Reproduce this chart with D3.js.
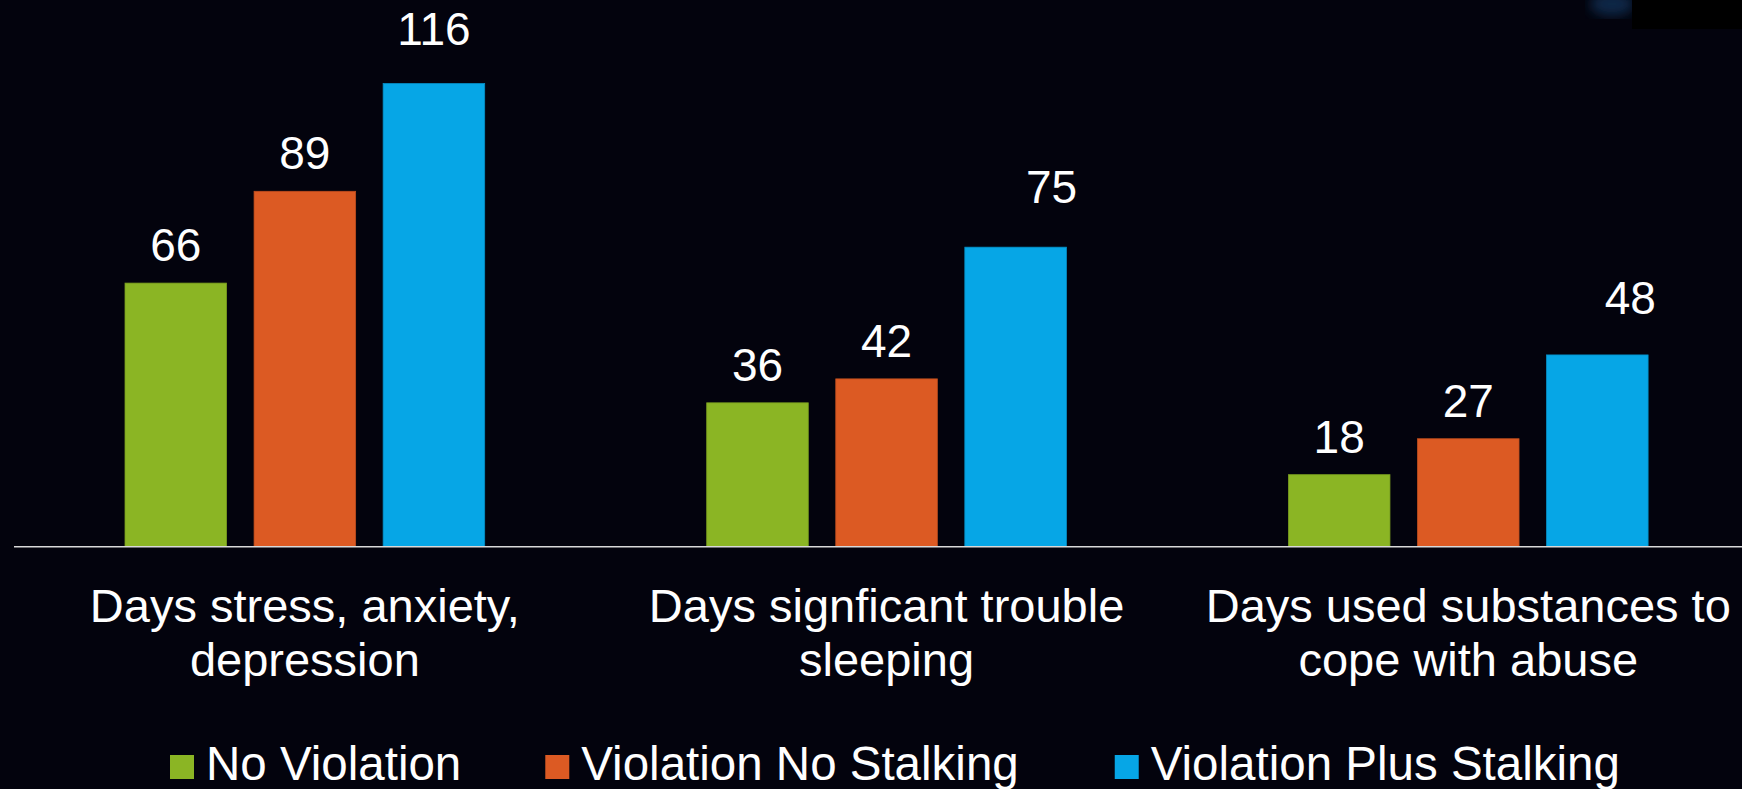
<!DOCTYPE html>
<meta charset="utf-8">
<style>
	html, body { margin: 0; padding: 0; background: #03030d; }
	svg { display: block; }
	text { font-family: "Liberation Sans", Arial, sans-serif; fill: #ffffff; }
</style>
<svg width="1742" height="789"></svg>
<script src="https://cdn.jsdelivr.net/npm/d3@7"></script>
<script>
	// categories (each label split into its two lines)
	var categories = [
		["Days stress, anxiety,", "depression"],
		["Days signficant trouble", "sleeping"],
		["Days used substances to", "cope with abuse"]
	]
	var seriesNames = ["No Violation", "Violation No Stalking", "Violation Plus Stalking"]
	var noViolation = [66, 36, 18]
	var violationNoStalking = [89, 42, 27]
	var violationPlusStalking = [116, 75, 48]
	var seriesColors = ["#8bb524", "#dc5a23", "#06a6e6"]

	var seriesValues = [noViolation, violationNoStalking, violationPlusStalking]

	var svg = d3.select("svg"),
		W = +svg.attr("width"),
		H = +svg.attr("height")

	// background + the little corner piece of the slide
	svg.append("rect").attr("width", W).attr("height", H).attr("fill", "#03030d")
	var defs = svg.append("defs")
	defs.append("filter").attr("id", "blur")
		.append("feGaussianBlur").attr("stdDeviation", 6)
	svg.append("ellipse")
		.attr("cx", 1612).attr("cy", 4).attr("rx", 22).attr("ry", 12)
		.attr("fill", "#12406e").attr("opacity", 0.6)
		.attr("filter", "url(#blur)")
	svg.append("rect")
		.attr("x", 1632).attr("y", 0).attr("width", 110).attr("height", 29)
		.attr("fill", "#000000")

	var baseY = 546.5

	var x0 = d3.scaleBand()
		.domain(d3.range(categories.length))
		.range([14, 14 + 3 * 581.7])
		.padding(0)

	var x1 = d3.scaleBand()
		.domain(seriesNames)
		.range([111, x0.bandwidth() - 111])
		.paddingInner(0.213)
		.paddingOuter(0)

	var y = d3.scaleLinear().domain([0, 130]).range([baseY, baseY - 130 * 3.991])

	// value label nudges (the slide moved a few labels by hand)
	var labelShift = {
		"Violation Plus Stalking": [[0, -17], [36, -22], [33, -19]]
	}

	var rows = []
	seriesNames.forEach(function (s, si) {
		seriesValues[si].forEach(function (v, ci) {
			rows.push({ series: s, si: si, ci: ci, value: v })
		})
	})

	var g = svg.append("g")

	g.selectAll(".bar")
		.data(rows)
		.enter()
		.append("rect")
		.attr("class", "bar")
		.attr("x", function (d) { return x0(d.ci) + x1(d.series) })
		.attr("y", function (d) { return y(d.value) })
		.attr("width", x1.bandwidth())
		.attr("height", function (d) { return baseY - y(d.value) })
		.attr("fill", function (d) { return seriesColors[d.si] })
		.attr("stroke", function (d) { return d3.color(seriesColors[d.si]).darker(0.4) })
		.attr("stroke-width", 0.8)

	g.selectAll(".val")
		.data(rows)
		.enter()
		.append("text")
		.attr("class", "val")
		.attr("text-anchor", "middle")
		.style("font-size", "46px")
		.attr("x", function (d) {
			var sh = labelShift[d.series] ? labelShift[d.series][d.ci][0] : 0
			return x0(d.ci) + x1(d.series) + x1.bandwidth() / 2 + sh
		})
		.attr("y", function (d) {
			var sh = labelShift[d.series] ? labelShift[d.series][d.ci][1] : 0
			return y(d.value) - 22 + sh
		})
		.text(function (d) { return d.value })

	// x axis line
	svg.append("line")
		.attr("x1", 14).attr("x2", W)
		.attr("y1", baseY + 0.3).attr("y2", baseY + 0.3)
		.attr("stroke", "#d9d9d9")
		.attr("stroke-width", 1.6)

	// category labels
	var cat = svg.selectAll(".cat")
		.data(categories)
		.enter()
		.append("text")
		.attr("class", "cat")
		.attr("text-anchor", "middle")
		.style("font-size", "47px")
		.attr("transform", function (d, i) {
			return "translate(" + (x0(i) + x0.bandwidth() / 2) + ",622)"
		})
	cat.selectAll("tspan")
		.data(function (d) { return d })
		.enter()
		.append("tspan")
		.attr("x", 0)
		.attr("y", function (d, i) { return i * 54 })
		.text(function (d) { return d })

	// legend
	var legend = svg.append("g").attr("class", "legend")
	var legendGaps = [84, 96]
	var lx = 170
	seriesNames.forEach(function (s, i) {
		var item = legend.append("g").attr("transform", "translate(" + lx + ",0)")
		item.append("rect")
			.attr("x", 0).attr("y", 755)
			.attr("width", 24).attr("height", 24)
			.attr("fill", seriesColors[i])
		var t = item.append("text")
			.attr("x", 36).attr("y", 780)
			.style("font-size", "47.5px")
			.text(s)
		lx += 36 + t.node().getComputedTextLength() + (legendGaps[i] || 0)
	})
</script>
